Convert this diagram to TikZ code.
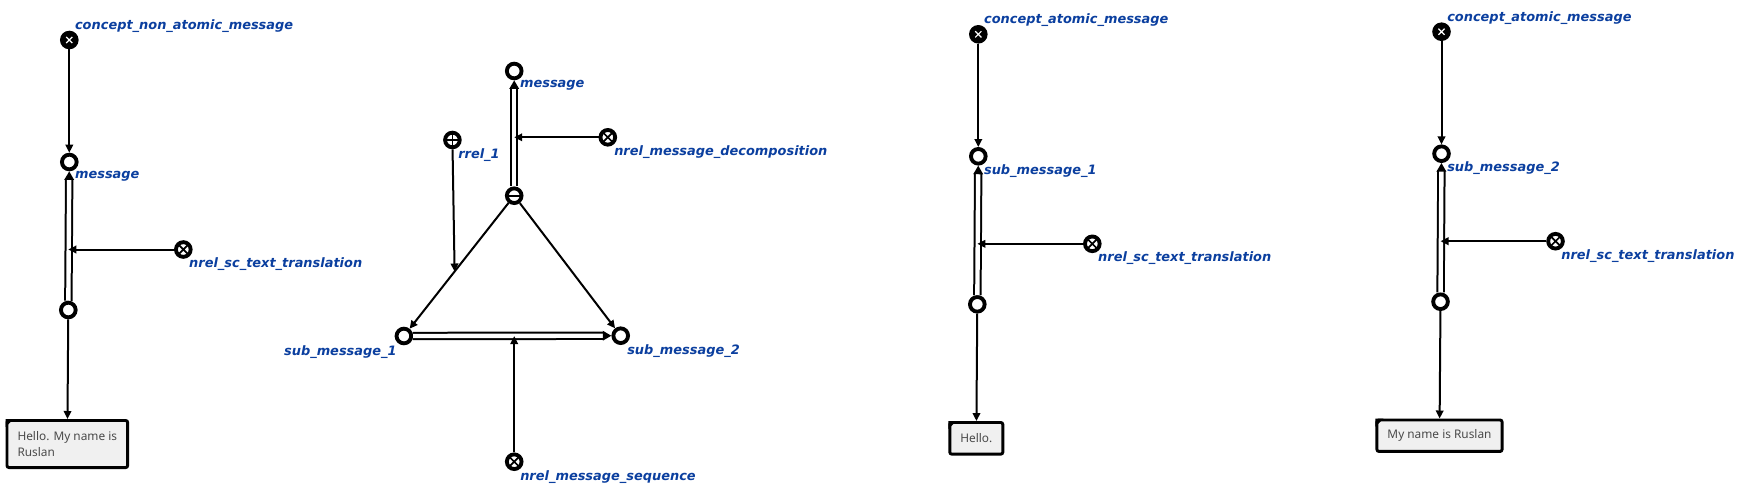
\documentclass[tikz,border=0pt]{standalone}
\usepackage{fontspec}
\usepackage{xcolor}
\usetikzlibrary{arrows.meta,positioning,calc,decorations.markings}
\newfontfamily\lblfont{DejaVu Sans}
\newfontfamily\lnkfont{Noto Sans}
\definecolor{scblue}  {HTML}{0B3F9F}
\definecolor{lnkgray} {HTML}{4A4A4A}
\definecolor{lnkfill} {HTML}{F0F0F0}

\begin{document}
\begin{tikzpicture}[x=0.75pt,y=-0.75pt,
    every node/.style={inner sep=0pt},
    elem/.style={circle, draw, line width=2.9pt, fill=white, minimum size=11pt},
    cls/.style={elem, fill=black, path picture={
        \draw[white, line width=0.9pt]
          ($(path picture bounding box.center)+(-2.3pt,-2.3pt)$) -- ++(4.6pt,4.6pt)
          ($(path picture bounding box.center)+(-2.3pt,2.3pt)$) -- ++(4.6pt,-4.6pt);}},
    nrel/.style={elem, path picture={
        \draw[line width=1.3pt]
          (path picture bounding box.north west) -- (path picture bounding box.south east)
          (path picture bounding box.south west) -- (path picture bounding box.north east);}},
    rrel/.style={elem, path picture={
        \draw[line width=1.3pt]
          (path picture bounding box.north) -- (path picture bounding box.south)
          (path picture bounding box.west) -- (path picture bounding box.east);}},
    tup/.style={elem, path picture={
        \draw[line width=1.3pt]
          (path picture bounding box.west) -- (path picture bounding box.east);}},
    arc/.style={draw, line width=1.5pt, -{Triangle[length=6pt,width=5.6pt]}},
    dblarc/.style={draw, line width=1.5pt, double=white, double distance=3.3pt, shorten >=5.8pt,
      postaction={decorate, decoration={markings, mark=at position 1 with
        {\pgfsetinnerlinewidth{0pt}\arrow{Triangle[length=6.5pt,width=7pt]}}}}},
    lbl/.style={font=\lblfont\fontsize{9.7}{11}\selectfont\bfseries\itshape, text=scblue, anchor=west},
    lnk/.style={draw, line width=2.2pt, fill=lnkfill, rounded corners=1.5pt, inner xsep=7.9pt,
      align=left, text=lnkgray, font=\lnkfont\fontsize{8.9}{12}\selectfont}]
  \useasboundingbox (0,0) rectangle (1744,494);

  \foreach \k/\cx/\cy/\cname/\mname/\bh/\txt in {
      a/69.3/40/concept\_non\_atomic\_message/message/35.3pt/{Hello. My name is\\Ruslan},
      c/978.3/34.3/concept\_atomic\_message/sub\_message\_1/23.7pt/{Hello.},
      d/1441.5/31.7/concept\_atomic\_message/sub\_message\_2/23.6pt/{My name is Ruslan}}{
    \node[cls] (cls\k) at (\cx,\cy) {};
    \node[lbl] (clsl\k) at (\cx+5.5,\cy-13.8) {\cname};
    \node[elem] (msg\k) at (\cx,\cy+122) {};
    \node[lbl] (msgl\k) at (\cx+5.5,\cy+136.5) {\mname};
    \node[elem] (low\k) at (\cx-1,\cy+270) {};
    \node[nrel] (tr\k) at (\cx+114,\cy+209.5) {};
    \node[lbl] (trl\k) at (\cx+119.6,\cy+224) {nrel\_sc\_text\_translation};
    \node[lnk, minimum height=\bh] (box\k) at (\cx-2,\cy+404) {\txt};
    \fill (box\k.north west) -- ++(6pt,0pt) -- ++(-6pt,-6pt) -- cycle;
    \draw[arc] (cls\k) -- (msg\k);
    \draw[dblarc] (low\k) -- (msg\k);
    \coordinate (j\k) at (low\k |- tr\k);
    \draw[arc] (tr\k) -- (j\k);
    \draw[arc] (low\k) -- (box\k);
  }

  \node[elem] (msgb) at (514.2,71) {};
  \node[lbl] (msgbl) at (519.8,85.7) {message};
  \node[tup] (tup) at (514.2,195.7) {};
  \node[rrel] (rr) at (452.4,140) {};
  \node[lbl] (rrl) at (458,155) {rrel\_1};
  \node[nrel] (dec) at (607.8,137.3) {};
  \node[lbl] (decl) at (614,151.7) {nrel\_message\_decomposition};
  \node[elem] (sub1) at (403.9,336) {};
  \node[lbl, anchor=east] (sub1l) at (396.9,351.7) {sub\_message\_1};
  \node[elem] (sub2) at (620.7,335.7) {};
  \node[lbl] (sub2l) at (627,350.7) {sub\_message\_2};
  \node[nrel] (seq) at (514.2,461.7) {};
  \node[lbl] (seql) at (520,476.7) {nrel\_message\_sequence};
  \draw[dblarc] (tup) -- (msgb);
  \coordinate (jdec) at (tup |- dec);
  \draw[arc] (dec) -- (jdec);
  \draw[arc] (tup) -- coordinate[pos=0.545] (jrr) (sub1);
  \draw[arc] (tup) -- (sub2);
  \draw[arc] (rr) -- (jrr);
  \draw[dblarc] (sub1) -- (sub2);
  \coordinate (jseq) at (seq |- sub1);
  \draw[arc] (seq) -- (jseq);
\end{tikzpicture}
\end{document}
